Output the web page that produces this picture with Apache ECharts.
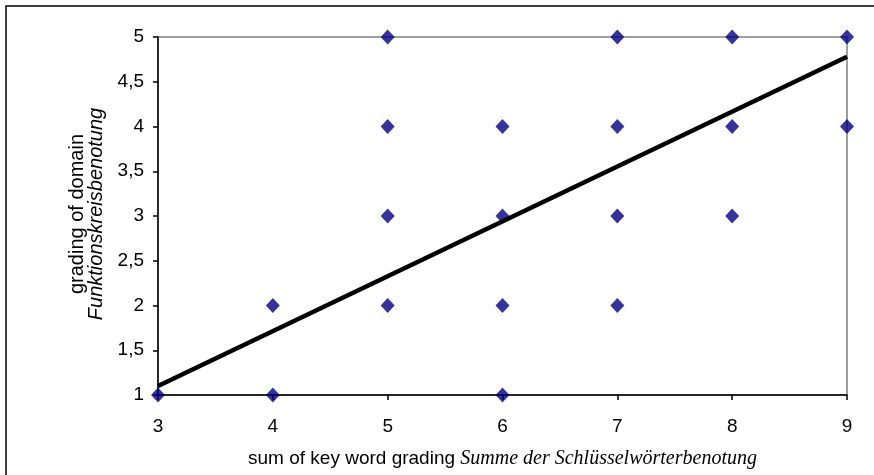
<!DOCTYPE html>
<html>
<head>
<meta charset="utf-8">
<script src="https://cdn.jsdelivr.net/npm/echarts@6/dist/echarts.min.js"></script>
<style>
html,body{margin:0;padding:0;background:#fff;}
#chart{width:874px;height:475px;}
</style>
</head>
<body>
<div id="chart"></div>
<script>
// Observed points (x = sum of key word grading, y = grading of domain)
var pointX = [3, 4, 4, 5, 5, 5, 5, 6, 6, 6, 6, 7, 7, 7, 7, 8, 8, 8, 9, 9];
var pointY = [1, 1, 2, 5, 4, 3, 2, 4, 3, 2, 1, 5, 4, 3, 2, 5, 4, 3, 5, 4];
// Linear trend line end points
var trendX = [3, 9];
var trendY = [1.1, 4.78];
var xTicks = [3, 4, 5, 6, 7, 8, 9];
var yTicks = [1, 1.5, 2, 2.5, 3, 3.5, 4, 4.5, 5];
var yTitle = ['grading of domain', 'Funktionskreisbenotung'];
var xTitle = ['sum of key word grading ', 'Summe der Schlüsselwörterbenotung'];

var chart = echarts.init(document.getElementById('chart'));
var FONT = '"Liberation Sans", Arial, sans-serif';
var SERIF = '"Liberation Serif", "Times New Roman", serif';

chart.setOption({
  backgroundColor: '#fff',
  animation: false,
  graphic: [{
    type: 'rect',
    shape: {x: 6, y: 6, width: 1000, height: 1000},
    style: {fill: 'none', stroke: '#000', lineWidth: 1.5},
    silent: true
  }, {
    type: 'text',
    x: 77, y: 214,
    rotation: Math.PI / 2,
    style: {text: yTitle[0], font: '20px ' + FONT, fill: '#000', align: 'center', verticalAlign: 'middle'},
    silent: true
  }, {
    type: 'text',
    x: 96, y: 214,
    rotation: Math.PI / 2,
    style: {text: yTitle[1], font: 'italic 20px ' + FONT, fill: '#000', align: 'center', verticalAlign: 'middle'},
    silent: true
  }],
  grid: {
    left: 158, top: 37, right: 27, bottom: 80,
    show: true, borderColor: '#808080', borderWidth: 1.5, backgroundColor: 'transparent'
  },
  xAxis: {
    type: 'value',
    min: xTicks[0], max: xTicks[xTicks.length - 1], interval: 1,
    splitLine: {show: false},
    axisLine: {lineStyle: {color: '#000', width: 1.5}},
    axisTick: {show: true, length: 5, lineStyle: {color: '#000', width: 1.5}},
    axisLabel: {color: '#000', fontFamily: FONT, fontSize: 19, margin: 22},
    name: '{a|' + xTitle[0] + '}{b|' + xTitle[1] + '}',
    nameLocation: 'middle',
    nameGap: 54,
    nameMoveOverlap: false,
    nameTextStyle: {
      rich: {
        a: {fontFamily: FONT, fontSize: 19, color: '#000'},
        b: {fontFamily: SERIF, fontStyle: 'italic', fontSize: 20, color: '#000'}
      }
    }
  },
  yAxis: {
    type: 'value',
    min: yTicks[0], max: yTicks[yTicks.length - 1], interval: 0.5,
    splitLine: {show: false},
    axisLine: {show: true, lineStyle: {color: '#000', width: 1.5}},
    axisTick: {show: true, length: 5, lineStyle: {color: '#000', width: 1.5}},
    axisLabel: {
      color: '#000', fontFamily: FONT, fontSize: 19, margin: 14,
      formatter: function (v) { return String(v).replace('.', ','); }
    }
  },
  series: [{
    type: 'scatter',
    symbol: 'diamond',
    symbolSize: [14, 15],
    itemStyle: {color: '#000080'},
    data: pointX.map(function (x, i) { return [x, pointY[i]]; }),
    z: 2
  }, {
    type: 'line',
    data: trendX.map(function (x, i) { return [x, trendY[i]]; }),
    symbol: 'none',
    lineStyle: {color: '#000', width: 4.5},
    z: 3
  }]
});
</script>
</body>
</html>
